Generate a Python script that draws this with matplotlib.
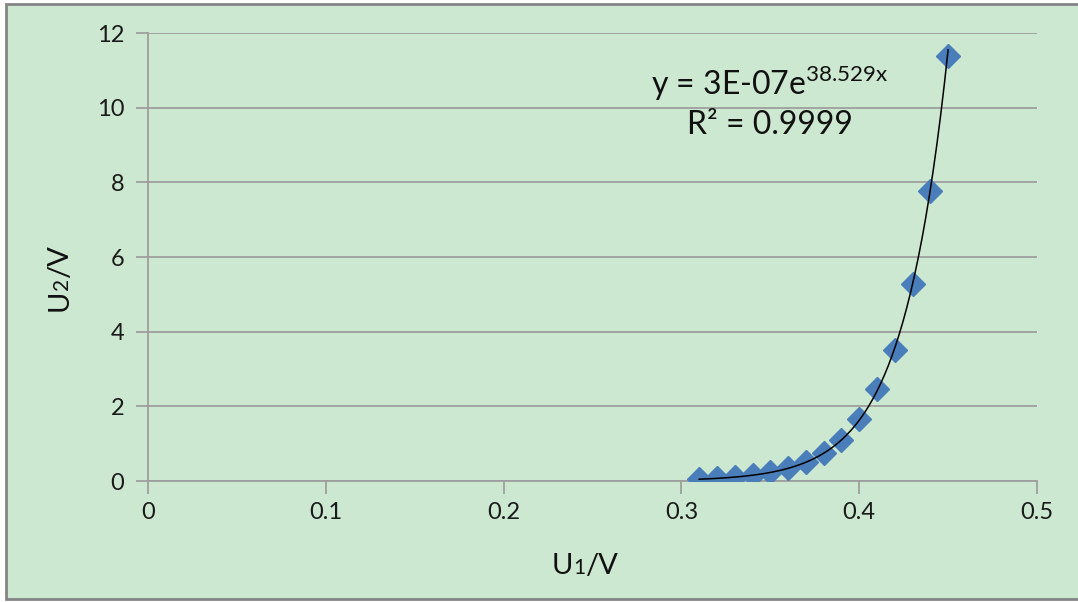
import numpy as np
import matplotlib
matplotlib.use("Agg")
import matplotlib.pyplot as plt
from matplotlib.patches import Rectangle

plt.rcParams['font.family'] = ['Lato', 'DejaVu Sans']
plt.rcParams['mathtext.fontset'] = 'custom'
plt.rcParams['mathtext.rm'] = 'Lato'

# measured points
u1 = [0.31, 0.32, 0.33, 0.34, 0.35, 0.36, 0.37, 0.38, 0.39, 0.40, 0.41, 0.42, 0.43, 0.44, 0.45]
u2 = [0.05, 0.07, 0.10, 0.15, 0.23, 0.34, 0.50, 0.76, 1.11, 1.66, 2.46, 3.50, 5.28, 7.77, 11.38]
x_ticks = [0, 0.1, 0.2, 0.3, 0.4, 0.5]
y_ticks = [0, 2, 4, 6, 8, 10, 12]

W, H = 1078, 602
bg = '#cde8d0'
grid_col = '#9e9e9e'
txt_col = '#111111'

fig = plt.figure(figsize=(W / 100, H / 100), dpi=100, facecolor='white')
# outer chart frame
fig.patches.append(Rectangle((6 / W, 3 / H), 1.1, 595 / H, transform=fig.transFigure,
                             facecolor=bg, edgecolor='#858585', linewidth=2, zorder=-5))

ax = fig.add_axes([148 / W, 121 / H, 889 / W, 448 / H])
ax.set_facecolor('none')

# exponential trendline fitted on log scale
b, ln_a = np.polyfit(u1, np.log(u2), 1)
xs = np.linspace(min(u1), max(u1), 200)
ax.plot(xs, np.exp(ln_a) * np.exp(b * xs), color='black', lw=1.1, zorder=4)
ax.plot(u1, u2, linestyle='none', marker='D', ms=12.5, color='#4a7ebb', zorder=3)

ax.set_xlim(0, 0.5)
ax.set_ylim(0, 12)
ax.set_xticks(x_ticks)
ax.set_xticklabels([f'{t:g}' for t in x_ticks])
ax.set_yticks(y_ticks)
ax.yaxis.grid(True, color=grid_col, lw=1.3)
ax.set_axisbelow(True)
for s in ['top', 'right']:
    ax.spines[s].set_visible(False)
for s in ['left', 'bottom']:
    ax.spines[s].set_color(grid_col)
    ax.spines[s].set_linewidth(1.3)
ax.tick_params(axis='both', colors=grid_col, width=1.3, length=9, labelsize=17,
               labelcolor='#1a1a1a')
ax.tick_params(axis='x', pad=6)
ax.tick_params(axis='y', pad=8)

ax.text(0.70, 0.888, r'y = 3E-07e$^{\mathregular{38.529x}}$', transform=ax.transAxes,
        fontsize=23, ha='center', va='center', color=txt_col)
ax.text(0.70, 0.795, 'R² = 0.9999', transform=ax.transAxes,
        fontsize=23, ha='center', va='center', color=txt_col)


def axis_label(cx, cy, pieces, vertical=False):
    # lay out text pieces of different sizes on one baseline, centred on (cx, cy) in pixels
    renderer = fig.canvas.get_renderer()
    arts = []
    total = 0
    for s, size in pieces:
        t = fig.text(0, 0, s, fontsize=size, color=txt_col, ha='left', va='baseline',
                     rotation=90 if vertical else 0, rotation_mode='anchor')
        ext = t.get_window_extent(renderer)
        step = ext.height if vertical else ext.width
        arts.append((t, step))
        total += step
    pos = -total / 2
    for t, step in arts:
        if vertical:
            t.set_position(((cx + 11) / W, 1 - cy / H + pos / H))
        else:
            t.set_position((cx / W + pos / W, 1 - (cy + 11) / H))
        pos += step


axis_label(585, 563, [('U', 21), ('1', 15), ('/V', 21)])
axis_label(57, 278, [('U', 21), ('2', 15), ('/V', 21)], vertical=True)

fig.savefig('out.png', dpi=100)
